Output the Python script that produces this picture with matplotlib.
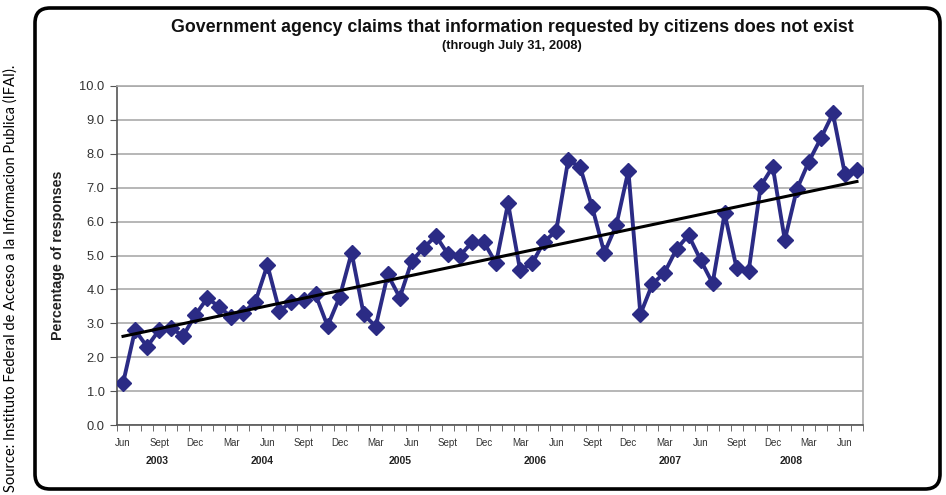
import numpy as np
import matplotlib
matplotlib.use("Agg")
import matplotlib.pyplot as plt
from matplotlib.patches import FancyBboxPatch

# Monthly data, Jun 2003 .. Jul 2008
months = ["Jun", "Jul", "Aug", "Sept", "Oct", "Nov", "Dec",
          "Jan", "Feb", "Mar", "Apr", "May", "Jun", "Jul", "Aug", "Sept", "Oct", "Nov", "Dec",
          "Jan", "Feb", "Mar", "Apr", "May", "Jun", "Jul", "Aug", "Sept", "Oct", "Nov", "Dec",
          "Jan", "Feb", "Mar", "Apr", "May", "Jun", "Jul", "Aug", "Sept", "Oct", "Nov", "Dec",
          "Jan", "Feb", "Mar", "Apr", "May", "Jun", "Jul", "Aug", "Sept", "Oct", "Nov", "Dec",
          "Jan", "Feb", "Mar", "Apr", "May", "Jun", "Jul"]
values = [1.23, 2.80, 2.31, 2.80, 2.85, 2.63, 3.24,
          3.74, 3.49, 3.18, 3.31, 3.64, 4.72, 3.36, 3.64, 3.69, 3.85, 2.92, 3.77,
          5.08, 3.27, 2.90, 4.44, 3.76, 4.84, 5.23, 5.58, 5.04, 4.99, 5.39, 5.39,
          4.77, 6.54, 4.57, 4.77, 5.41, 5.72, 7.82, 7.60, 6.42, 5.08, 5.90, 7.50,
          3.27, 4.16, 4.49, 5.19, 5.60, 4.87, 4.18, 6.24, 4.62, 4.55, 7.05, 7.62,
          5.46, 6.95, 7.77, 8.46, 9.19, 7.40, 7.52]
labeled_months = ["Jun", "Sept", "Dec", "Mar"]
years = ["2003", "2004", "2005", "2006", "2007", "2008"]
year_pos = [2.8, 11.6, 23.0, 34.25, 45.5, 55.5]

plt.rcParams['font.family'] = ['Liberation Sans', 'DejaVu Sans']

W, H = 946, 495
fig = plt.figure(figsize=(W / 100, H / 100), dpi=100)

# rounded border box (display coords)
box = FancyBboxPatch((35 + 15, 6 + 15), 940 - 35 - 30, 487 - 6 - 30,
                     boxstyle="round,pad=15", linewidth=2.6, edgecolor="black",
                     facecolor="none", transform=None, zorder=5)
fig.patches.append(box)

ax = fig.add_axes([117 / W, 1 - 425 / H, (863 - 117) / W, (425 - 86) / H])
ax.set_facecolor("none")
x = np.arange(len(values))
color = "#2B2B85"
ax.plot(x, values, color=color, lw=2.8, marker="D", ms=8.3, zorder=3)

coef = np.polyfit(x, values, 1)
ax.plot(x, np.polyval(coef, x), color="black", lw=2.2, zorder=4)

ax.set_xlim(-0.5, len(values) - 0.5)
ax.set_ylim(0, 10)
ax.set_yticks(np.arange(0, 10.01, 1.0))
ax.set_yticklabels([f"{v:.1f}" for v in np.arange(0, 10.01, 1.0)],
                   fontsize=9.3, color="#333333")
ax.yaxis.grid(True, color="#AAAAAA", lw=1.2)
ax.set_axisbelow(True)

lab_idx = [i for i, m in enumerate(months) if m in labeled_months]
ax.set_xticks(lab_idx)
ax.set_xticklabels([months[i] for i in lab_idx], fontsize=7, color="#333333")
ax.set_xticks(np.arange(-0.5, len(values), 1.0), minor=True)
ax.tick_params(axis="x", which="major", length=0, pad=9)
ax.tick_params(axis="x", which="minor", length=4, color="#555555")
ax.tick_params(axis="y", length=5, color="#555555", pad=4)

for s in ["top", "right"]:
    ax.spines[s].set_color("#AAAAAA")
    ax.spines[s].set_linewidth(1.2)
for s in ["left", "bottom"]:
    ax.spines[s].set_color("#555555")
    ax.spines[s].set_linewidth(1.2)

for yr, p in zip(years, year_pos):
    ax.text(p, -1.07, yr, fontsize=7.5, fontweight="bold", ha="center",
            va="center", color="#222222", transform=ax.transData, clip_on=False)

ax.set_ylabel("Percentage of responses", fontsize=10.3, fontweight="bold",
              color="#222222", labelpad=10)

fig.text(512 / W, 1 - 27 / H,
         "Government agency claims that information requested by citizens does not exist",
         ha="center", va="center", fontsize=12.8, fontweight="bold", color="#111111")
fig.text(512 / W, 1 - 46 / H, "(through July 31, 2008)", ha="center", va="center",
         fontsize=9.3, fontweight="bold", color="#111111")

fig.text(11 / W, 1 - 278 / H,
         "Source: Instituto Federal de Acceso a la Informacion Publica (IFAI).",
         rotation=90, ha="center", va="center", fontsize=10.5,
         family=["Lato", "DejaVu Sans"], color="black")

fig.savefig("out.png", dpi=100)
